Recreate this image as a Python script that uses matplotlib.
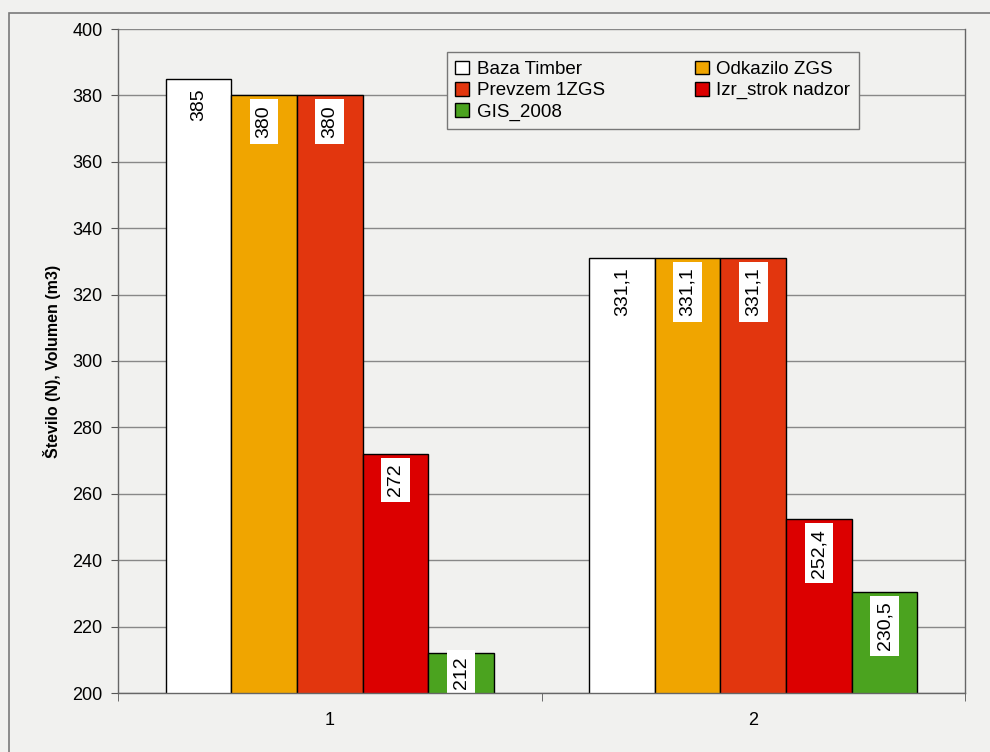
import matplotlib.pyplot as plt
import matplotlib.patches as mpatches
import numpy as np

plt.rcParams["font.family"] = ["Liberation Sans", "DejaVu Sans"]

# Data
categories = ["1", "2"]
series_names = ["Baza Timber", "Odkazilo ZGS", "Prevzem 1ZGS", "Izr_strok nadzor", "GIS_2008"]
baza_timber = [385, 331.1]
odkazilo_zgs = [380, 331.1]
prevzem_1zgs = [380, 331.1]
izr_strok = [272, 252.4]
gis_2008 = [212, 230.5]
values = [baza_timber, odkazilo_zgs, prevzem_1zgs, izr_strok, gis_2008]
colors = ["#ffffff", "#f0a500", "#e2360e", "#dc0000", "#4ba31f"]

bg = "#f1f1ef"
ymin, ymax = 200, 400

fig = plt.figure(figsize=(9.9, 7.52), dpi=100, facecolor=bg)
ax = fig.add_axes([118 / 990, 1 - 693 / 752, (965 - 118) / 990, (693 - 29) / 752])
ax.set_facecolor(bg)

# outer chart frame
fig.patches.append(mpatches.Rectangle((9 / 990, -0.1), 1.2, (752 - 13) / 752 + 0.1,
                                      transform=fig.transFigure, fill=False,
                                      edgecolor="#7a7a7a", linewidth=1.2, zorder=0))

x = np.arange(1, len(categories) + 1)
width = 0.155
bars = []
for i, (name, vals, col) in enumerate(zip(series_names, values, colors)):
    pos = x + (i - 2) * width
    b = ax.bar(pos, vals, width, bottom=0, color=col, edgecolor="black",
               linewidth=1.0, label=name, zorder=3)
    bars.append(b)
    for xp, v in zip(pos, vals):
        txt = f"{v:g}".replace(".", ",")
        # short bars: push the label up so it fits inside the visible bar
        off = -7 if v - ymin > 15 else -2
        ax.annotate(txt, (xp, v), xytext=(0, off), textcoords="offset points",
                    rotation=90, ha="center", va="top", fontsize=14, zorder=5,
                    clip_on=True,
                    bbox=dict(boxstyle="square,pad=0.3", facecolor="white",
                              edgecolor="none"))

ax.set_ylim(ymin, ymax)
ax.set_xlim(0.5, 2.5)
ax.set_yticks(np.arange(200, 401, 20))
ax.tick_params(axis="y", labelsize=13, length=5, color="#555555", pad=6)
ax.set_xticks(x)
ax.set_xticklabels(categories)
ax.tick_params(axis="x", labelsize=13, length=0, pad=14)
ax.set_xticks([0.5, 1.5, 2.5], minor=True)
ax.tick_params(axis="x", which="minor", length=6, color="#555555")

ax.grid(axis="y", color="#888888", linewidth=1.0, zorder=1)
for s in ["left", "bottom", "right"]:
    ax.spines[s].set_color("#666666")
    ax.spines[s].set_linewidth(1.0)
    ax.spines[s].set_zorder(6)
ax.spines["top"].set_visible(False)

ax.set_ylabel("Število (N), Volumen (m3)", fontsize=11.5, fontweight="bold", labelpad=8)

order = [0, 2, 4, 1, 3]
leg = ax.legend([bars[i] for i in order], [series_names[i] for i in order],
                ncol=2, loc="upper left", bbox_to_anchor=(0.388, 0.965),
                borderaxespad=0, fontsize=13.5, frameon=True, fancybox=False,
                framealpha=1, facecolor=bg, edgecolor="#777777",
                handlelength=0.75, handleheight=0.75, handletextpad=0.4,
                columnspacing=4.8, labelspacing=0.2, borderpad=0.45)
leg.get_frame().set_linewidth(1.0)

fig.savefig("out.png", dpi=100, facecolor=bg)
